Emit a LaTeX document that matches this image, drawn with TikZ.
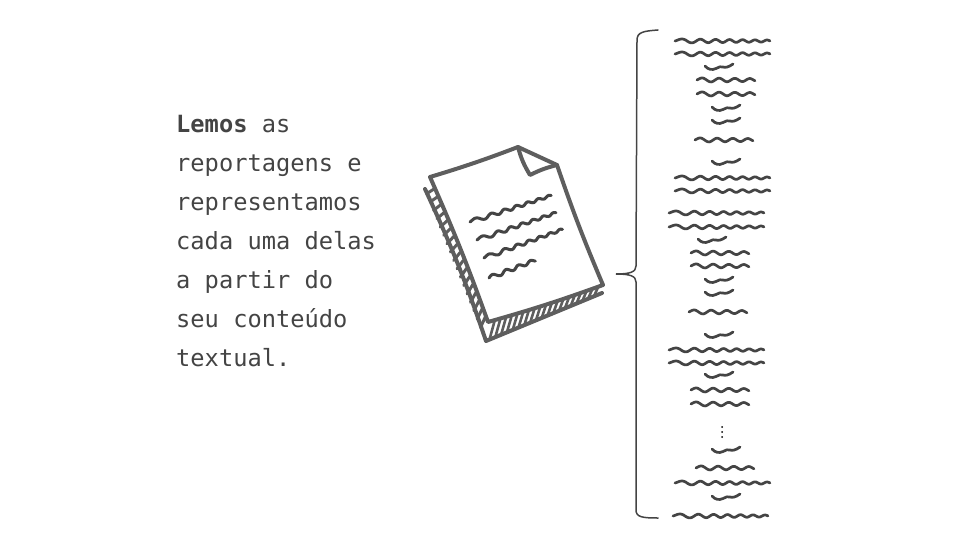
\documentclass[tikz,border=0pt]{standalone}
\usepackage{fontspec}
\usepackage{xcolor}
\usetikzlibrary{calc}
\setmonofont{DejaVu Sans Mono}

\definecolor{inkdark}{HTML}{444444}
\definecolor{inksketch}{HTML}{5E5E5E}

\tikzset{
    lede/.style={anchor=north west,inner sep=0pt,align=left,text=inkdark,
        font=\ttfamily\fontsize{23.7}{39}\selectfont},
    wave/.style={draw=inkdark,line width=2.7pt,line cap=round,line join=round},
    sketch/.style={draw=inksketch,line width=4pt,line cap=round,line join=round},
    hatch/.style={draw=inksketch,line width=2.6pt,line cap=round},
    brace/.style={draw=inkdark,line width=1.5pt,line cap=round},
    longwave/.pic={\draw[wave] plot[domain=0:1,samples=70,smooth]
        ({95*\x},{-(2.1-1.1*\x)*sin(6.5*360*pow(\x,1.25))});},
    midwave/.pic={\draw[wave] plot[domain=0:1,samples=50,smooth]
        ({58*\x},{-(2.1-0.7*\x)*sin(3.6*360*pow(\x,1.1))});},
    shortwave/.pic={\draw[wave] (0,-1) .. controls (3,2.5) and (7,3.5) .. (11,1.5)
        .. controls (14,0) and (16,-1) .. (18,0)
        .. controls (20,1) and (24,0) .. (28,-3);},
}

\begin{document}
\begin{tikzpicture}[x=1pt,y=-1pt]
    \useasboundingbox (0,0) rectangle (960,540);

    \node[lede] (caption) at (176,115) {\textbf{Lemos} as\\reportagens e\\representamos\\cada uma delas\\a partir do\\seu conteúdo\\textual.};

    % page corners
    \coordinate (tl) at (430,177);
    \coordinate (tr) at (518,147);
    \coordinate (fold) at (530,175);
    \coordinate (rt) at (557,165);
    \coordinate (br) at (603,285);
    \coordinate (bl) at (488,322);
    % back sheet
    \coordinate (ol) at (425,189);
    \coordinate (ob) at (486,341);
    \coordinate (or) at (602,293);

    \foreach \t in {0.03,0.085,...,0.96}
        \draw[hatch,line width=3pt] ($(ol)!\t!(ob)$) -- ($(tl)!\t+0.05!(bl)$);
    \foreach \t in {0.03,0.08,...,0.98}
        \draw[hatch] ($(ob)!\t!(or)$) -- ($(bl)!\t+0.03!(br)$);

    \draw[sketch] (ol) to[bend left=3] (ob) -- (or);
    \draw[sketch,fill=white] (tl) to[bend right=2] (tr) -- (rt)
        to[bend right=2] (br) to[bend left=2] (bl) to[bend right=2] (tl);
    \draw[sketch] (tr) to[bend right=8] (fold) to[bend left=6] (rt);

    \begin{scope}[wave/.append style={line width=3pt}]
        \pic[rotate=18,xscale=0.9] at (470,222) {longwave};
        \pic[rotate=19,xscale=0.88] at (477,240) {longwave};
        \pic[rotate=20,xscale=0.88] at (484,258) {longwave};
        \pic[rotate=21,xscale=0.85] at (489,278) {midwave};
    \end{scope}

    % brace
    \coordinate (bracetop) at (658,30);
    \coordinate (bracetip) at (616,274);
    \coordinate (braceend) at (658,518);
    \draw[brace] (bracetop) .. controls (644,31) and (637,32) .. (637,40) -- (636,266)
        .. controls (636,272) and (630,274) .. (bracetip)
        .. controls (630,274) and (636,276) .. (636,282) -- (636,510)
        .. controls (636,517) and (642,518) .. (braceend);

    \foreach \xa/\ya in {675/41,675/54,675/178,675/191,669/213,669/227,669/350,669/363,675/483,673/516}
        \pic at (\xa,\ya) {longwave};
    \foreach \xa/\ya in {697/80,697/94,695/140,691/253,691/266,689/312,691/390,691/404,696/468}
        \pic at (\xa,\ya) {midwave};
    \foreach \xa/\ya in {705/67,712/108,712/121,712/162,698/240,705/280,705/293,705/335,705/375,712/450,712/497}
        \pic at (\xa,\ya) {shortwave};

    \foreach \ya in {427,432,437}
        \fill[black] (722,\ya) circle (1);
\end{tikzpicture}
\end{document}
